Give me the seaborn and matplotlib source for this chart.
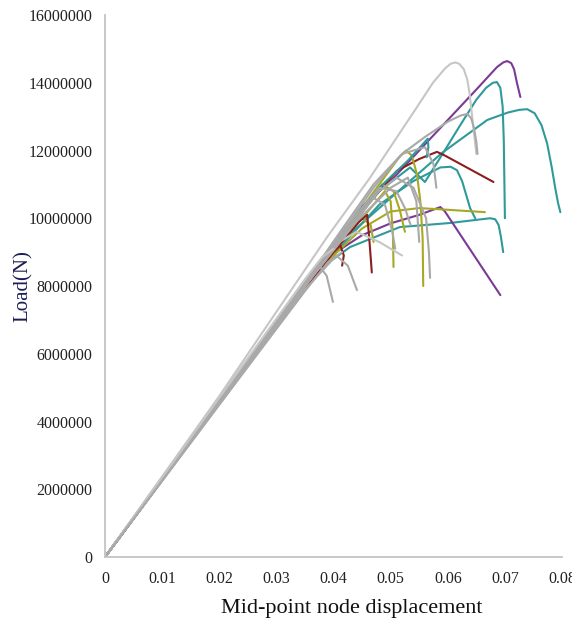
import pandas as pd
import matplotlib
matplotlib.use('Agg')
import matplotlib.pyplot as plt
import seaborn as sns
from matplotlib.ticker import FormatStrFormatter

# colours of the series
GRAY = '#a9a9a9'
LGRAY = '#c6c6c6'
PURPLE = '#7a3a96'
TEAL = '#2f9a9a'
RED = '#8b1f1f'
OLIVE = '#a9a824'

# curve data: displacement (m) and load (N)
disp_c01 = [0, 0.02, 0.0389, 0.0464, 0.0546, 0.0574, 0.0595, 0.0605, 0.0613, 0.062, 0.0628, 0.0634, 0.0638, 0.0642, 0.0646, 0.0650]
load_c01 = [0, 4.75e6, 9.45e6, 11.2e6, 13.28e6, 14.0e6, 14.42e6, 14.56e6, 14.6e6, 14.56e6, 14.4e6, 14.1e6, 13.7e6, 13.1e6, 12.5e6, 11.9e6]

disp_c02 = [0, 0.02, 0.035, 0.04, 0.045, 0.05, 0.055, 0.06, 0.065, 0.0686, 0.0697, 0.0704, 0.0711, 0.0716, 0.0721, 0.0727]
load_c02 = [0, 4.6e6, 8.0e6, 9.2e6, 10.35e6, 11.1e6, 12.0e6, 12.9e6, 13.8e6, 14.46e6, 14.6e6, 14.64e6, 14.58e6, 14.4e6, 14.0e6, 13.58e6]

disp_c03 = [0, 0.02, 0.035, 0.042, 0.047, 0.052, 0.056, 0.06, 0.0622, 0.0634, 0.0641, 0.0646, 0.065, 0.0652]
load_c03 = [0, 4.6e6, 8.0e6, 9.7e6, 10.9e6, 11.9e6, 12.4e6, 12.85e6, 13.03e6, 13.08e6, 12.95e6, 12.65e6, 12.25e6, 11.9e6]

disp_c04 = [0, 0.02, 0.035, 0.042, 0.048, 0.0534, 0.056, 0.0592, 0.062, 0.065, 0.0667, 0.0679, 0.0686, 0.0692, 0.0696, 0.0698, 0.0700]
load_c04 = [0, 4.6e6, 8.0e6, 9.6e6, 10.8e6, 11.5e6, 11.07e6, 11.93e6, 12.7e6, 13.5e6, 13.85e6, 14.0e6, 14.02e6, 13.85e6, 13.3e6, 12.3e6, 10.0e6]

disp_c05 = [0, 0.02, 0.035, 0.042, 0.05, 0.059, 0.0669, 0.0705, 0.0725, 0.0739, 0.0752, 0.0764, 0.0774, 0.0782, 0.0788, 0.0793, 0.0797]
load_c05 = [0, 4.6e6, 7.95e6, 9.4e6, 10.6e6, 11.93e6, 12.9e6, 13.12e6, 13.2e6, 13.22e6, 13.1e6, 12.75e6, 12.2e6, 11.5e6, 10.9e6, 10.45e6, 10.18e6]

disp_c06 = [0, 0.02, 0.035, 0.04, 0.046, 0.0511, 0.055, 0.0581, 0.0595, 0.068]
load_c06 = [0, 4.55e6, 7.9e6, 9.05e6, 10.4e6, 11.4e6, 11.75e6, 11.96e6, 11.85e6, 11.07e6]

disp_c07 = [0, 0.02, 0.035, 0.042, 0.048, 0.054, 0.0587, 0.0605, 0.0616, 0.0625, 0.0632, 0.0639, 0.0648]
load_c07 = [0, 4.6e6, 7.9e6, 9.3e6, 10.4e6, 11.1e6, 11.5e6, 11.52e6, 11.42e6, 11.1e6, 10.7e6, 10.3e6, 10.0e6]

disp_c08 = [0, 0.02, 0.0365, 0.0429, 0.0516, 0.0604, 0.0674, 0.0683, 0.0689, 0.0693, 0.0697]
load_c08 = [0, 4.55e6, 8.38e6, 9.15e6, 9.74e6, 9.86e6, 10.0e6, 9.97e6, 9.8e6, 9.45e6, 9.0e6]

disp_c09 = [0, 0.02, 0.035, 0.04, 0.045, 0.05, 0.055, 0.0587, 0.0595, 0.0692]
load_c09 = [0, 4.55e6, 7.9e6, 8.95e6, 9.5e6, 9.85e6, 10.1e6, 10.33e6, 10.2e6, 7.73e6]

disp_c10 = [0, 0.02, 0.035, 0.042, 0.048, 0.0515, 0.0527, 0.0537, 0.0546, 0.0552, 0.0556, 0.0557]
load_c10 = [0, 4.6e6, 8.0e6, 9.6e6, 11.0e6, 11.8e6, 12.0e6, 11.85e6, 11.3e6, 10.5e6, 9.4e6, 8.0e6]

disp_c11 = [0, 0.02, 0.035, 0.04, 0.045, 0.05, 0.055, 0.06, 0.0665]
load_c11 = [0, 4.55e6, 7.9e6, 8.9e6, 9.7e6, 10.2e6, 10.3e6, 10.25e6, 10.18e6]

disp_c12 = [0, 0.02, 0.035, 0.042, 0.0465, 0.049, 0.0500, 0.0504, 0.0505]
load_c12 = [0, 4.55e6, 7.9e6, 9.4e6, 10.3e6, 10.8e6, 10.5e6, 9.5e6, 8.56e6]

disp_c13 = [0, 0.02, 0.035, 0.042, 0.0465, 0.0485, 0.0505, 0.0516, 0.0525]
load_c13 = [0, 4.6e6, 8.0e6, 9.5e6, 10.5e6, 11.0e6, 10.8e6, 10.24e6, 9.6e6]

disp_c14 = [0, 0.02, 0.035, 0.041, 0.045, 0.0465, 0.047]
load_c14 = [0, 4.6e6, 8.0e6, 9.3e6, 10.0e6, 9.8e6, 9.3e6]

disp_c15 = [0, 0.02, 0.035, 0.0375, 0.0388, 0.0399]
load_c15 = [0, 4.55e6, 8.1e6, 8.6e6, 8.3e6, 7.53e6]

disp_c16 = [0, 0.02, 0.035, 0.0405, 0.0425, 0.0441]
load_c16 = [0, 4.5e6, 7.9e6, 8.9e6, 8.6e6, 7.88e6]

disp_c17 = [0, 0.02, 0.035, 0.041, 0.044, 0.048, 0.052]
load_c17 = [0, 4.6e6, 8.0e6, 9.3e6, 9.6e6, 9.3e6, 8.9e6]

disp_c18 = [0, 0.02, 0.035, 0.043, 0.048, 0.051, 0.054, 0.0562, 0.0567, 0.0569]
load_c18 = [0, 4.6e6, 8.0e6, 9.8e6, 10.8e6, 11.2e6, 10.9e6, 10.0e6, 9.0e6, 8.24e6]

disp_c19 = [0, 0.02, 0.035, 0.042, 0.047, 0.049, 0.0503, 0.0508]
load_c19 = [0, 4.6e6, 8.0e6, 9.5e6, 10.6e6, 10.4e6, 9.6e6, 9.1e6]

disp_c20 = [0, 0.02, 0.035, 0.043, 0.048, 0.051, 0.0525, 0.0535]
load_c20 = [0, 4.65e6, 8.05e6, 9.9e6, 10.9e6, 10.8e6, 10.3e6, 9.8e6]

disp_c21 = [0, 0.02, 0.035, 0.04, 0.0445, 0.0459, 0.0463, 0.0467]
load_c21 = [0, 4.55e6, 7.9e6, 9.0e6, 9.9e6, 10.1e6, 9.3e6, 8.4e6]

disp_c22 = [0, 0.02, 0.035, 0.039, 0.0412, 0.0418, 0.0415]
load_c22 = [0, 4.55e6, 7.95e6, 8.85e6, 9.2e6, 8.9e6, 8.6e6]

disp_c23 = [0, 0.02, 0.035, 0.042, 0.048, 0.053, 0.0565, 0.0566, 0.0563]
load_c23 = [0, 4.6e6, 8.0e6, 9.7e6, 10.9e6, 11.7e6, 12.35e6, 12.1e6, 11.8e6]

disp_c24 = [0, 0.02, 0.035, 0.042, 0.047, 0.052, 0.056, 0.0575, 0.058]
load_c24 = [0, 4.65e6, 8.1e6, 9.8e6, 11.0e6, 11.9e6, 12.1e6, 11.6e6, 10.9e6]

disp_c25 = [0, 0.02, 0.035, 0.044, 0.050, 0.053, 0.0545, 0.055]
load_c25 = [0, 4.6e6, 8.0e6, 9.9e6, 10.9e6, 11.2e6, 10.5e6, 9.3e6]

disp_c26 = [0, 0.02, 0.035, 0.038, 0.040]
load_c26 = [0, 4.7e6, 8.2e6, 8.85e6, 9.1e6]

disp_c27 = [0, 0.02, 0.035, 0.039, 0.0415]
load_c27 = [0, 4.5e6, 7.85e6, 8.7e6, 9.0e6]

# coloured series first, gray ones on top as in the reference
curves = [
    (disp_c02, load_c02, PURPLE), (disp_c04, load_c04, TEAL),
    (disp_c05, load_c05, TEAL), (disp_c06, load_c06, RED),
    (disp_c07, load_c07, TEAL), (disp_c08, load_c08, TEAL),
    (disp_c09, load_c09, PURPLE), (disp_c10, load_c10, OLIVE),
    (disp_c11, load_c11, OLIVE), (disp_c12, load_c12, OLIVE),
    (disp_c13, load_c13, OLIVE), (disp_c14, load_c14, OLIVE),
    (disp_c21, load_c21, RED), (disp_c22, load_c22, RED),
    (disp_c23, load_c23, TEAL),
    (disp_c01, load_c01, LGRAY), (disp_c03, load_c03, GRAY),
    (disp_c15, load_c15, GRAY), (disp_c16, load_c16, GRAY),
    (disp_c17, load_c17, LGRAY), (disp_c18, load_c18, GRAY),
    (disp_c19, load_c19, GRAY), (disp_c20, load_c20, GRAY),
    (disp_c24, load_c24, GRAY), (disp_c25, load_c25, GRAY),
    (disp_c26, load_c26, LGRAY), (disp_c27, load_c27, GRAY),
]

# long table for seaborn
rows = []
palette = {}
for i, (xs, ys, col) in enumerate(curves):
    name = f'c{i + 1:02d}'
    palette[name] = col
    for x, y in zip(xs, ys):
        rows.append({'curve': name, 'disp': x, 'load': y})
df = pd.DataFrame(rows)

sns.set_theme(style='white')
plt.rcParams['font.family'] = ['Liberation Serif', 'DejaVu Serif']

fig = plt.figure(figsize=(5.72, 6.25), dpi=100)
ax = fig.add_axes([0.1836, 0.1088, 0.7990, 0.8672])

sns.lineplot(data=df, x='disp', y='load', hue='curve', palette=palette,
             estimator=None, sort=False, legend=False, linewidth=1.5, ax=ax)

ax.set_xlim(0, 0.08)
ax.set_ylim(0, 16000000)
ax.set_xticks([0, 0.01, 0.02, 0.03, 0.04, 0.05, 0.06, 0.07, 0.08])
ax.set_yticks(range(0, 16000001, 2000000))
ax.xaxis.set_major_formatter(FormatStrFormatter('%g'))
ax.yaxis.set_major_formatter(FormatStrFormatter('%d'))
ax.tick_params(axis='both', length=0, labelsize=11.5, colors='#222222')
ax.tick_params(axis='x', pad=10)
ax.tick_params(axis='y', pad=9)

for side in ['top', 'right']:
    ax.spines[side].set_visible(False)
for side in ['left', 'bottom']:
    ax.spines[side].set_color('#c4c4c4')
    ax.spines[side].set_linewidth(1.3)

ax.set_xlabel('Mid-point node displacement', fontsize=16, color='#111111')
ax.set_ylabel('Load(N)', fontsize=15, color='#1c1c55')
ax.xaxis.set_label_coords(0.54, -0.078)
ax.yaxis.set_label_coords(-0.158, 0.5)

fig.savefig('out.png', dpi=100)
